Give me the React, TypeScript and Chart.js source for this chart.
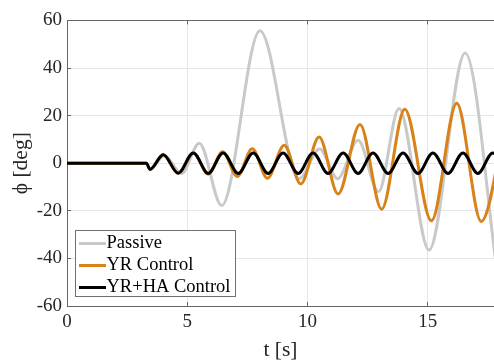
import React, { useEffect, useRef } from "react";
import { Chart, registerables } from "chart.js";

Chart.register(...registerables);

// ---------- data ----------
const seriesLabels = ["Passive", "YR Control", "YR+HA Control"];
const seriesColors = ["#c9c9c9", "#d8821a", "#000000"];

// Passive: time [s] of each extremum, roll angle [deg]
const passiveT = [0, 3.3, 3.45, 4.05, 4.76, 5.5, 6.43, 8.02, 9.65, 10.5, 11.25, 12.1, 12.95, 13.8, 15.05, 16.55, 17.9];
const passiveDeg = [0, 0, -2.5, 3.2, -4.3, 8.4, -17.8, 55.7, -6.5, 6.0, -6.5, 9.6, -12.0, 23.0, -36.5, 46.3, -47.0];

// YR Control
const yrT = [0, 3.3, 3.45, 4.0, 4.62, 5.25, 5.87, 6.47, 7.08, 7.7, 8.33, 9.03, 9.72, 10.48, 11.27, 12.18, 13.08, 14.04, 15.15, 16.2, 17.22, 18.3];
const yrDeg = [0, 0, -2.6, 3.7, -4.2, 4.3, -4.5, 4.8, -5.6, 6.1, -6.3, 7.5, -8.7, 11.0, -12.9, 16.3, -19.3, 22.7, -24.2, 25.2, -24.5, 22.0];

// YR+HA Control
const yrhaT = [0, 3.3, 3.45, 4.0, 4.62, 5.25, 5.87, 6.49, 7.12, 7.74, 8.36, 8.98, 9.61, 10.23, 10.85, 11.48, 12.1, 12.72, 13.35, 13.97, 14.59, 15.21, 15.84, 16.46, 17.08, 17.7, 18.33];
const yrhaDeg = [0, 0, -2.6, 3.6, -4.2, 4.3, -4.3, 4.3, -4.3, 4.3, -4.3, 4.3, -4.3, 4.3, -4.3, 4.3, -4.3, 4.3, -4.3, 4.3, -4.3, 4.3, -4.3, 4.3, -4.3, 4.3, -4.3];

const xTicks = [0, 5, 10, 15];
const yTicks = [-60, -40, -20, 0, 20, 40, 60];
const xRange = [0, 17.75];
const yRange = [-60, 60];

// ---------- styling ----------
const SERIF = "'Liberation Serif', 'Times New Roman', serif";
const TEXT = "#262626";
const GRID = "#e6e6e6";
const AXIS = "#666666";

function makeSample(color: string) {
  const c = document.createElement("canvas");
  c.width = 36;
  c.height = 3;
  const g = c.getContext("2d")!;
  g.fillStyle = color;
  g.fillRect(9, 0, 27, 3);
  return c;
}

function legendFrame(chart: any) {
  const ca = chart.chartArea;
  return { x: ca.left + 8, y: ca.bottom - 76, w: 161, h: 67 };
}

const legendPlugin = {
  id: "legendPlacer",
  afterLayout(chart: any) {
    const lg = chart.legend;
    if (!lg) return;
    const f = legendFrame(chart);
    lg.left = f.x + 0.25;
    lg.top = f.y + 0.55;
    lg.right = f.x + f.w;
    lg.bottom = chart.chartArea.bottom;
    lg.width = lg.right - lg.left;
    lg.height = lg.bottom - lg.top;
  },
  afterDatasetsDraw(chart: any) {
    const lg = chart.legend;
    if (!lg) return;
    const f = legendFrame(chart);
    const ctx = chart.ctx;
    ctx.save();
    ctx.fillStyle = "#ffffff";
    ctx.fillRect(f.x, f.y, f.w, f.h);
    ctx.strokeStyle = "#707070";
    ctx.lineWidth = 1;
    ctx.strokeRect(f.x + 0.5, f.y + 0.5, f.w - 1, f.h - 1);
    ctx.restore();
    lg.draw();
  },
};

export default function App() {
  const ref = useRef<HTMLCanvasElement>(null);

  useEffect(() => {
    const canvas = ref.current;
    if (!canvas) return;
    const samples = seriesColors.map(makeSample);
    const ts = [passiveT, yrT, yrhaT];
    const ds = [passiveDeg, yrDeg, yrhaDeg];
    const orders = [2, 1, 0];

    const datasets = seriesLabels.map((label, i) => ({
      label,
      data: ts[i].map((t, k) => ({ x: t, y: ds[i][k] })),
      borderColor: seriesColors[i],
      backgroundColor: seriesColors[i],
      borderWidth: 3,
      pointRadius: 0,
      pointHoverRadius: 0,
      cubicInterpolationMode: "monotone" as const,
      fill: false,
      order: orders[i],
      xAxisID: "x",
      yAxisID: "y",
    }));

    const tickFont = { family: SERIF, size: 19 };
    const titleFont = { family: SERIF, size: 21.5, lineHeight: 0.884 };

    const chart = new Chart(canvas, {
      type: "line",
      data: { datasets },
      options: {
        responsive: false,
        maintainAspectRatio: false,
        animation: false,
        devicePixelRatio: 1,
        events: [],
        layout: { padding: { top: 17, left: 0, right: 0, bottom: 0 } },
        scales: {
          x: {
            type: "linear",
            position: "bottom",
            min: xRange[0],
            max: xRange[1],
            afterBuildTicks: (s: any) => {
              s.ticks = xTicks.map((v) => ({ value: v }));
            },
            afterFit: (s: any) => {
              s.height = 54;
            },
            grid: { color: GRID, lineWidth: 1, drawTicks: true, tickLength: -4, tickColor: AXIS, tickWidth: 1 },
            border: { display: true, color: AXIS, width: 1 },
            ticks: { padding: 9, color: TEXT, font: tickFont, maxRotation: 0, autoSkip: false },
            title: { display: true, text: "t [s]", color: TEXT, font: titleFont, padding: { top: 0, bottom: 0 } },
          },
          xTop: {
            type: "linear",
            position: "top",
            min: xRange[0],
            max: xRange[1],
            afterBuildTicks: (s: any) => {
              s.ticks = xTicks.map((v) => ({ value: v }));
            },
            afterFit: (s: any) => {
              s.height = 0;
            },
            grid: { drawOnChartArea: false, drawTicks: true, tickLength: -4, tickColor: AXIS, tickWidth: 1 },
            border: { display: true, color: AXIS, width: 1 },
            ticks: { display: false },
          },
          y: {
            type: "linear",
            position: "left",
            min: yRange[0],
            max: yRange[1],
            afterBuildTicks: (s: any) => {
              s.ticks = yTicks.map((v) => ({ value: v }));
            },
            afterFit: (s: any) => {
              s.width = 67;
            },
            grid: { color: GRID, lineWidth: 1, drawTicks: true, tickLength: -4, tickColor: AXIS, tickWidth: 1 },
            border: { display: true, color: AXIS, width: 1 },
            ticks: { padding: 9, color: TEXT, font: tickFont, autoSkip: false },
            title: { display: true, text: "ϕ [deg]", color: TEXT, font: titleFont, padding: { top: 11.5, bottom: 0 } },
          },
        },
        plugins: {
          tooltip: { enabled: false },
          title: { display: false },
          legend: {
            display: true,
            position: "chartArea",
            align: "start",
            labels: {
              usePointStyle: true,
              boxWidth: 18.5,
              boxHeight: 3,
              padding: 3.5,
              color: "#1a1a1a",
              font: { family: SERIF, size: 18.5 },
              generateLabels: (c: any) =>
                c.data.datasets.map((d: any, i: number) => ({
                  text: d.label,
                  pointStyle: samples[i],
                  fillStyle: d.borderColor,
                  strokeStyle: d.borderColor,
                  lineWidth: 0,
                  hidden: false,
                  datasetIndex: i,
                })),
            },
          },
        },
      } as any,
      plugins: [legendPlugin],
    });

    return () => chart.destroy();
  }, []);

  return (
    <div style={{ position: "fixed", left: 0, top: 0, width: 494, height: 360, background: "#ffffff" }}>
      <canvas ref={ref} width={494} height={360} style={{ display: "block", width: 494, height: 360 }} />
    </div>
  );
}
